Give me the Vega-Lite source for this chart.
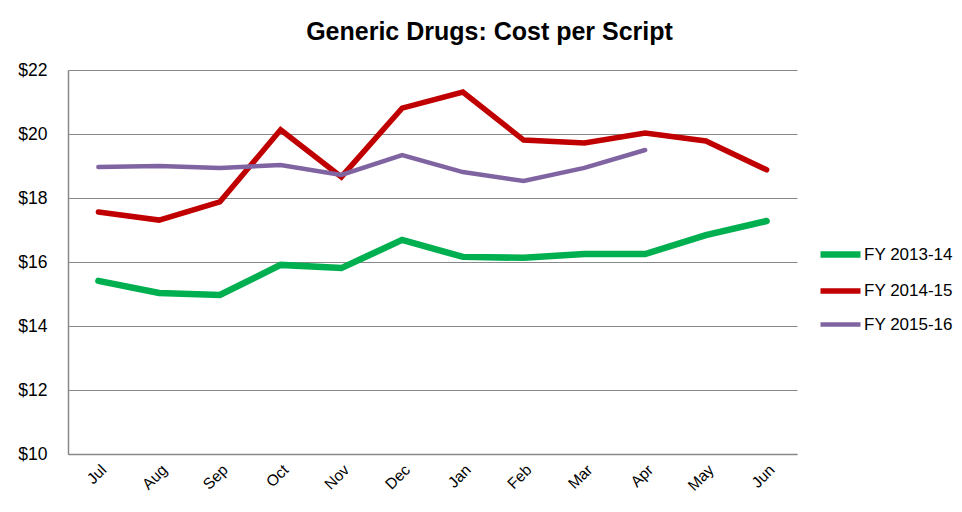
{
  "$schema": "https://vega.github.io/schema/vega-lite/v6.json",
  "width": 729,
  "height": 384,
  "autosize": {"type": "none"},
  "padding": {"left": 68, "top": 70, "right": 165, "bottom": 58},
  "background": "white",
  "title": {
    "text": "Generic Drugs: Cost per Script",
    "font": "Liberation Sans",
    "fontSize": 25,
    "fontWeight": "bold",
    "color": "#000000",
    "anchor": "middle",
    "dx": 57,
    "offset": 16
  },
  "config": {
    "view": {"stroke": null},
    "font": "Liberation Sans"
  },
  "data": {
    "values": [
      {"month": "Jul", "series": "FY 2013-14", "cost": 15.41},
      {"month": "Aug", "series": "FY 2013-14", "cost": 15.03},
      {"month": "Sep", "series": "FY 2013-14", "cost": 14.97},
      {"month": "Oct", "series": "FY 2013-14", "cost": 15.91},
      {"month": "Nov", "series": "FY 2013-14", "cost": 15.81},
      {"month": "Dec", "series": "FY 2013-14", "cost": 16.69},
      {"month": "Jan", "series": "FY 2013-14", "cost": 16.16},
      {"month": "Feb", "series": "FY 2013-14", "cost": 16.13},
      {"month": "Mar", "series": "FY 2013-14", "cost": 16.25},
      {"month": "Apr", "series": "FY 2013-14", "cost": 16.25},
      {"month": "May", "series": "FY 2013-14", "cost": 16.84},
      {"month": "Jun", "series": "FY 2013-14", "cost": 17.28},
      {"month": "Jul", "series": "FY 2014-15", "cost": 17.56},
      {"month": "Aug", "series": "FY 2014-15", "cost": 17.31},
      {"month": "Sep", "series": "FY 2014-15", "cost": 17.88},
      {"month": "Oct", "series": "FY 2014-15", "cost": 20.13},
      {"month": "Nov", "series": "FY 2014-15", "cost": 18.66},
      {"month": "Dec", "series": "FY 2014-15", "cost": 20.81},
      {"month": "Jan", "series": "FY 2014-15", "cost": 21.31},
      {"month": "Feb", "series": "FY 2014-15", "cost": 19.81},
      {"month": "Mar", "series": "FY 2014-15", "cost": 19.72},
      {"month": "Apr", "series": "FY 2014-15", "cost": 20.03},
      {"month": "May", "series": "FY 2014-15", "cost": 19.78},
      {"month": "Jun", "series": "FY 2014-15", "cost": 18.88},
      {"month": "Jul", "series": "FY 2015-16", "cost": 18.97},
      {"month": "Aug", "series": "FY 2015-16", "cost": 19.0},
      {"month": "Sep", "series": "FY 2015-16", "cost": 18.94},
      {"month": "Oct", "series": "FY 2015-16", "cost": 19.03},
      {"month": "Nov", "series": "FY 2015-16", "cost": 18.72},
      {"month": "Dec", "series": "FY 2015-16", "cost": 19.34},
      {"month": "Jan", "series": "FY 2015-16", "cost": 18.81},
      {"month": "Feb", "series": "FY 2015-16", "cost": 18.53},
      {"month": "Mar", "series": "FY 2015-16", "cost": 18.94},
      {"month": "Apr", "series": "FY 2015-16", "cost": 19.5}
    ]
  },
  "mark": {"type": "line", "strokeCap": "round", "strokeJoin": "miter"},
  "encoding": {
    "x": {
      "field": "month",
      "type": "ordinal",
      "sort": ["Jul", "Aug", "Sep", "Oct", "Nov", "Dec", "Jan", "Feb", "Mar", "Apr", "May", "Jun"],
      "scale": {"type": "point", "padding": 0.5},
      "axis": {
        "title": null,
        "labelAngle": -45,
        "labelFontSize": 15.5,
        "labelColor": "#000000",
        "labelPadding": 8,
        "ticks": false,
        "grid": false,
        "domainColor": "#888888",
        "domainWidth": 1.5
      }
    },
    "y": {
      "field": "cost",
      "type": "quantitative",
      "scale": {"domain": [10, 22], "nice": false, "zero": false},
      "axis": {
        "title": null,
        "values": [10, 12, 14, 16, 18, 20, 22],
        "format": "$.0f",
        "labelFontSize": 17.5,
        "labelColor": "#000000",
        "labelPadding": 21,
        "ticks": false,
        "grid": true,
        "gridColor": "#888888",
        "gridWidth": 1.2,
        "domainColor": "#888888",
        "domainWidth": 1.5
      }
    },
    "color": {
      "field": "series",
      "type": "nominal",
      "scale": {
        "domain": ["FY 2013-14", "FY 2014-15", "FY 2015-16"],
        "range": ["#00B050", "#C00000", "#8064A2"]
      },
      "legend": {
        "title": null,
        "orient": "none",
        "legendX": 749,
        "legendY": 161,
        "symbolType": "stroke",
        "symbolSize": 1600,
        "labelFontSize": 17,
        "labelColor": "#000000",
        "labelOffset": 0,
        "rowPadding": -20
      }
    },
    "strokeWidth": {
      "field": "series",
      "type": "nominal",
      "scale": {
        "domain": ["FY 2013-14", "FY 2014-15", "FY 2015-16"],
        "range": [6.5, 4.5, 4]
      },
      "legend": {
        "title": null,
        "orient": "none",
        "legendX": 749,
        "legendY": 161,
        "symbolType": "stroke",
        "symbolSize": 1600,
        "labelFontSize": 17,
        "labelColor": "#000000",
        "labelOffset": 0,
        "rowPadding": -20
      }
    }
  }
}
